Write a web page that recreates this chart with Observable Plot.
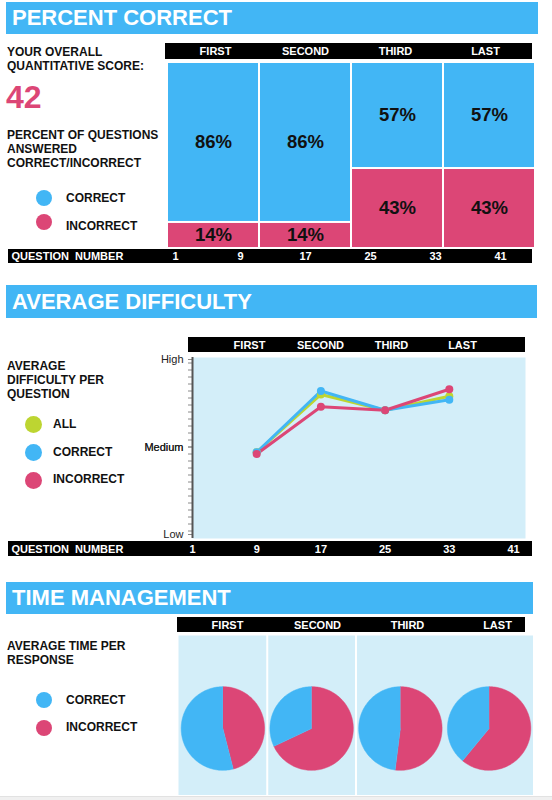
<!DOCTYPE html>
<html><head><meta charset="utf-8">
<script src="https://cdn.jsdelivr.net/npm/d3@7"></script>
<script src="https://cdn.jsdelivr.net/npm/@observablehq/plot@0.6"></script>
<style>
body{margin:0;background:#fff;}
#page{position:relative;width:552px;height:800px;overflow:hidden;font-family:"Liberation Sans",Arial,Helvetica,sans-serif;color:#111;}
.title{position:absolute;background:#42b6f5;color:#fff;font-weight:bold;font-size:22px;padding-left:6px;box-sizing:border-box;white-space:nowrap;}
.lbl{position:absolute;font-weight:bold;font-size:12px;line-height:14px;white-space:nowrap;color:#111;}
.key{position:absolute;border-radius:50%;}
.diff g[aria-label="y-axis"] .tick line, .diff g[aria-label="y-axis tick"] path{stroke:#8a8a8a;}
.diff text{font-size:11px;}
</style></head><body><div id="page"></div>
<script>
// ---------- data ----------
const quarters = ["FIRST", "SECOND", "THIRD", "LAST"];
const questionTicks = [1, 9, 17, 25, 33, 41];
const overallScore = 42;
const pctCorrect = [86, 86, 57, 57];
const pctIncorrect = [14, 14, 43, 43];
const diffQuestions = [9, 17, 25, 33];
const diffAll = [47, 80, 71, 79];
const diffCorrect = [47, 82, 71, 77];
const diffIncorrect = [46, 73, 71, 83];
const difficultyLevels = [[0, "Low"], [50, "Medium"], [100, "High"]];
const timeCorrect = [54, 32, 48, 39];
const timeIncorrect = [46, 68, 52, 61];

// ---------- style ----------
const BLUE = "#42b6f5", PINK = "#dc4676", GREEN = "#bdd531", PALE = "#d3eef9";
const FONT = "Liberation Sans, Arial, Helvetica, sans-serif";
const page = document.getElementById("page");

function put(el, left, top) {
  el.style.position = "absolute";
  el.style.left = left + "px";
  el.style.top = top + "px";
  page.appendChild(el);
  return el;
}
function div(cls, html, left, top, extra = {}) {
  const d = document.createElement("div");
  if (cls) d.className = cls;
  d.innerHTML = html;
  Object.assign(d.style, extra);
  return put(d, left, top);
}
function title(text, left, top, width, height) {
  div("title", text, left, top, {width: width + "px", height: height + "px", lineHeight: height + "px"});
}
function legend(items, cx, cys, labelLeft, labelCenters, r) {
  items.forEach(([name, color], i) => {
    div("key", "", cx - r, cys[i] - r, {width: 2 * r + "px", height: 2 * r + "px", background: color});
    div("lbl", name, labelLeft, labelCenters[i] - 7);
  });
}
function headerBar(left, top, width, height, range) {
  const svg = Plot.plot({
    width, height, margin: 0,
    x: {type: "point", domain: quarters, range, padding: 0.5, axis: null},
    style: {background: "#000", color: "#fff", fontFamily: FONT, fontSize: "11px", overflow: "visible"},
    marks: [Plot.text(quarters, {x: d => d, frameAnchor: "middle", fill: "#fff", fontWeight: "bold", fontSize: 11})]
  });
  put(svg, left, top);
}
function questionBar(left, top, width, height, range) {
  const svg = Plot.plot({
    width, height, margin: 0,
    x: {range, axis: null},
    style: {background: "#000", color: "#fff", fontFamily: FONT, fontSize: "11px", overflow: "visible"},
    marks: [
      Plot.text(["QUESTION\u00a0 NUMBER"], {text: d => d, frameAnchor: "left", textAnchor: "start", dx: 3, fill: "#fff", fontWeight: "bold", fontSize: 11}),
      Plot.text(questionTicks, {x: d => d, text: d => String(d), frameAnchor: "middle", fill: "#fff", fontWeight: "bold", fontSize: 11})
    ]
  });
  put(svg, left, top);
}

// ================= SECTION 1: PERCENT CORRECT =================
title("PERCENT CORRECT", 6, 2, 532, 32);
div("lbl", "YOUR OVERALL<br>QUANTITATIVE SCORE:", 7, 45);
div("", String(overallScore), 6, 81, {color: PINK, fontWeight: "bold", fontSize: "32px", lineHeight: "32px"});
div("lbl", "PERCENT OF QUESTIONS<br>ANSWERED<br>CORRECT/INCORRECT", 7, 128);
legend([["CORRECT", BLUE], ["INCORRECT", PINK]], 44, [198, 222], 66, [198, 226], 8);
headerBar(165, 43, 367, 16, [5, 365]);

const mosaic = quarters.flatMap((q, i) => [
  {quarter: q, result: "INCORRECT", pct: pctIncorrect[i], y1: 0, y2: pctIncorrect[i]},
  {quarter: q, result: "CORRECT", pct: pctCorrect[i], y1: pctIncorrect[i], y2: pctIncorrect[i] + pctCorrect[i]}
]);
put(Plot.plot({
  width: 368, height: 186, margin: 0,
  x: {type: "band", domain: quarters, padding: 0, axis: null},
  y: {domain: [0, 100], axis: null},
  color: {domain: ["CORRECT", "INCORRECT"], range: [BLUE, PINK]},
  style: {background: "transparent", fontFamily: FONT, overflow: "visible"},
  marks: [
    Plot.barY(mosaic, {x: "quarter", y1: "y1", y2: "y2", fill: "result", insetLeft: 1, insetRight: 1, insetTop: 1, insetBottom: 1}),
    Plot.text(mosaic, {x: "quarter", y: d => (d.y1 + d.y2) / 2, text: d => d.pct + "%", fill: "#111", fontSize: 18.5, fontWeight: "bold"})
  ]
}), 167, 62);
questionBar(8, 249, 524, 14, [167, 492]);

// ================= SECTION 2: AVERAGE DIFFICULTY =================
title("AVERAGE DIFFICULTY", 6, 285, 531, 33);
div("lbl", "AVERAGE<br>DIFFICULTY PER<br>QUESTION", 7, 359);
legend([["ALL", GREEN], ["CORRECT", BLUE], ["INCORRECT", PINK]], 33, [424, 452, 480], 53, [424, 452, 479], 8.5);
headerBar(188, 337, 337, 15, [24, 310]);

const series = [["ALL", diffAll], ["CORRECT", diffCorrect], ["INCORRECT", diffIncorrect]];
const diffRows = series.flatMap(([name, vals]) => vals.map((v, i) => ({series: name, q: diffQuestions[i], v})));
const levelMap = new Map(difficultyLevels);
const yTicks = d3.range(2, 100, 4).concat(difficultyLevels.map(d => d[0]));
const diffPlot = Plot.plot({
  width: 380, height: 192,
  marginLeft: 42, marginRight: 5, marginTop: 7, marginBottom: 4,
  x: {domain: [1, 41], range: [42, 363], axis: null},
  y: {domain: [0, 100], range: [184, 9], ticks: yTicks, tickSize: 4, tickPadding: 5, tickFormat: d => levelMap.get(d) ?? "", label: null},
  color: {domain: ["ALL", "CORRECT", "INCORRECT"], range: [GREEN, BLUE, PINK]},
  style: {background: "transparent", fontFamily: FONT, fontSize: "11px", color: "#222", overflow: "visible"},
  marks: [
    Plot.frame({fill: PALE, stroke: "none"}),
    Plot.ruleX([1], {stroke: "#555", strokeWidth: 2}),
    Plot.line(diffRows, {x: "q", y: "v", z: "series", stroke: "series", strokeWidth: 3}),
    Plot.dot(diffRows, {x: "q", y: "v", fill: "series", r: 4})
  ]
});
diffPlot.classList.add("diff");
put(diffPlot, 150, 350);
questionBar(8, 541, 524, 15, [184, 505]);

// ================= SECTION 3: TIME MANAGEMENT =================
title("TIME MANAGEMENT", 6, 582, 527, 32);
div("lbl", "AVERAGE TIME PER<br>RESPONSE", 7, 639);
legend([["CORRECT", BLUE], ["INCORRECT", PINK]], 44, [700, 728], 66, [700, 727], 8);
headerBar(177, 617, 348, 15, [5, 365]);

const R = 0.47;
const pieRows = [];
quarters.forEach((q, i) => {
  const cx = i + 0.5;
  const inc = timeIncorrect[i] / (timeIncorrect[i] + timeCorrect[i]);
  const slices = [["INCORRECT", 0, inc], ["CORRECT", inc, 1]];
  for (const [result, a0, a1] of slices) {
    const key = q + "-" + result;
    pieRows.push({key, result, x: cx, y: 0});
    const n = Math.max(2, Math.ceil((a1 - a0) * 180));
    for (let k = 0; k <= n; k++) {
      const t = 2 * Math.PI * (a0 + (a1 - a0) * k / n);
      pieRows.push({key, result, x: cx + R * Math.sin(t), y: R * Math.cos(t)});
    }
  }
});
put(Plot.plot({
  width: 355, height: 160, margin: 0,
  x: {domain: [0, quarters.length], range: [0, 355], axis: null},
  y: {domain: [-1, 1], range: [182, 4], axis: null},
  color: {domain: ["CORRECT", "INCORRECT"], range: [BLUE, PINK]},
  style: {background: "transparent", fontFamily: FONT},
  marks: [
    Plot.frame({fill: PALE, stroke: "none"}),
    Plot.ruleX(d3.range(1, quarters.length - 1), {stroke: "#fff", strokeWidth: 2}),
    Plot.line(pieRows, {x: "x", y: "y", z: "key", fill: "result", stroke: "result", strokeWidth: 0.5})
  ]
}), 178, 635);

// footer strip
div("", "", 0, 796, {width: "552px", height: "4px", background: "#f0f0f0", borderTop: "1px solid #e2e2e2"});
</script></body></html>
